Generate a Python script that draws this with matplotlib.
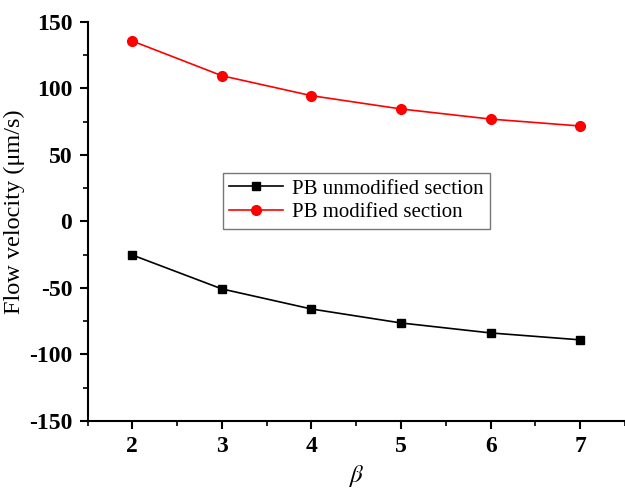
import matplotlib.pyplot as plt
from matplotlib.ticker import MultipleLocator, AutoMinorLocator

plt.rcParams['font.family'] = ['Liberation Serif', 'DejaVu Serif']
plt.rcParams['mathtext.fontset'] = 'stix'
plt.rcParams['axes.unicode_minus'] = False

# data
beta = [2, 3, 4, 5, 6, 7]
unmodified = [-25.2, -50.7, -65.8, -76.3, -83.8, -89.0]
modified = [135.7, 109.6, 94.6, 84.6, 77.0, 71.8]

fig = plt.figure(figsize=(6.25, 4.91), dpi=100)
ax = fig.add_axes([0.14, 0.1426, 0.86, 0.8126])

ax.plot(beta, unmodified, color='black', lw=1.2, marker='s', ms=6,
        label='PB unmodified section')
ax.plot(beta, modified, color='red', lw=1.2, marker='o', ms=7,
        label='PB modified section')

ax.set_xlim(1.5, 7.5)
ax.set_ylim(-150, 150)
ax.xaxis.set_major_locator(MultipleLocator(1))
ax.xaxis.set_minor_locator(AutoMinorLocator(2))
ax.yaxis.set_major_locator(MultipleLocator(50))
ax.yaxis.set_minor_locator(AutoMinorLocator(2))

for side in ('top', 'right'):
    ax.spines[side].set_visible(False)
for side in ('left', 'bottom'):
    ax.spines[side].set_linewidth(1.5)

ax.tick_params(which='major', direction='out', length=6, width=1.5,
               labelsize=17, pad=5)
ax.tick_params(which='minor', direction='out', length=3.5, width=1.2)
for lbl in ax.get_xticklabels() + ax.get_yticklabels():
    lbl.set_fontweight('bold')

ax.set_ylabel('Flow velocity (μm/s)', fontsize=17.5)
ax.yaxis.set_label_coords(-0.116, 0.524)
ax.set_xlabel(r'$\beta$', fontsize=18, labelpad=4)

leg = ax.legend(loc='upper left', bbox_to_anchor=(0.252, 0.622),
                fontsize=15, frameon=True, fancybox=False,
                edgecolor='#555555', handlelength=2.6, borderpad=0.3,
                labelspacing=0.2, handletextpad=0.4, borderaxespad=0)
leg.get_frame().set_linewidth(1.0)

fig.savefig('out.png', dpi=100)
